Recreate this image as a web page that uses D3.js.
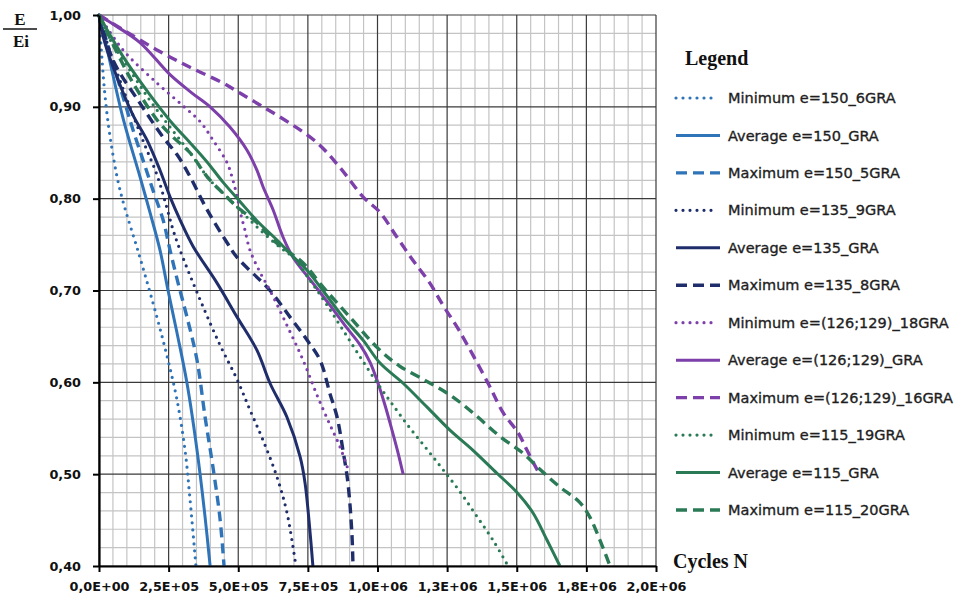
<!DOCTYPE html>
<html>
<head>
<meta charset="utf-8">
<script src="https://cdn.jsdelivr.net/npm/d3@7/dist/d3.min.js"></script>
<style>
  html, body { margin: 0; padding: 0; background: #fff; }
  svg { display: block; }
</style>
</head>
<body>
<svg id="chart" width="964" height="602"></svg>
<script>
// ---- Data: relative modulus E/Ei versus number of cycles N ----
const xTickValues = [0, 250000, 500000, 750000, 1000000, 1250000, 1500000, 1750000, 2000000];
const xTickLabels = ["0,0E+00", "2,5E+05", "5,0E+05", "7,5E+05", "1,0E+06", "1,3E+06", "1,5E+06", "1,8E+06", "2,0E+06"];
const yTickValues = [0.4, 0.5, 0.6, 0.7, 0.8, 0.9, 1.0];
const yTickLabels = ["0,40", "0,50", "0,60", "0,70", "0,80", "0,90", "1,00"];

const legendLabels = [
  "Minimum e=150_6GRA", "Average e=150_GRA", "Maximum e=150_5GRA",
  "Minimum e=135_9GRA", "Average e=135_GRA", "Maximum e=135_8GRA",
  "Minimum e=(126;129)_18GRA", "Average e=(126;129)_GRA", "Maximum e=(126;129)_16GRA",
  "Minimum e=115_19GRA", "Average e=115_GRA", "Maximum e=115_20GRA"
];

// [cycles N, E/Ei]
const min150 = [[0,1.00],[11000,0.951],[22000,0.911],[40000,0.867],[75000,0.810],[147000,0.736],[208000,0.671],[248000,0.624],[280000,0.581],[309000,0.526],[327000,0.472],[348000,0.400]];
const avg150 = [[0,1.00],[32000,0.959],[86000,0.888],[147000,0.824],[183000,0.785],[219000,0.744],[248000,0.700],[280000,0.654],[316000,0.599],[352000,0.526],[381000,0.453],[399000,0.400]];
const max150 = [[0,1.00],[47000,0.951],[100000,0.897],[122000,0.875],[158000,0.842],[194000,0.809],[230000,0.777],[255000,0.744],[284000,0.708],[316000,0.671],[352000,0.624],[381000,0.562],[409000,0.508],[434000,0.453],[449000,0.400]];

const min135 = [[0,1.00],[32000,0.967],[75000,0.929],[122000,0.891],[165000,0.858],[208000,0.826],[241000,0.793],[266000,0.766],[291000,0.744],[363000,0.690],[434000,0.641],[496000,0.603],[542000,0.570],[589000,0.537],[639000,0.497],[675000,0.458],[707000,0.400]];
const avg135 = [[0,1.00],[18000,0.973],[65000,0.932],[122000,0.891],[172000,0.864],[219000,0.831],[255000,0.802],[291000,0.777],[338000,0.748],[424000,0.708],[496000,0.671],[567000,0.635],[614000,0.599],[675000,0.562],[722000,0.519],[740000,0.490],[758000,0.436],[768000,0.400]];
const max135 = [[0,1.00],[50000,0.951],[147000,0.904],[230000,0.867],[280000,0.848],[327000,0.824],[388000,0.788],[460000,0.752],[496000,0.736],[614000,0.700],[686000,0.671],[747000,0.646],[794000,0.624],[829000,0.588],[855000,0.562],[876000,0.526],[894000,0.490],[908000,0.436],[912000,0.400]];

const min126 = [[0,1.00],[86000,0.962],[208000,0.926],[302000,0.901],[363000,0.884],[409000,0.864],[460000,0.839],[481000,0.820],[496000,0.802],[510000,0.782],[524000,0.766],[542000,0.744],[578000,0.720],[614000,0.700],[675000,0.662],[733000,0.624],[783000,0.586],[829000,0.554],[865000,0.530],[898000,0.502]];
const avg126 = [[0,1.00],[40000,0.992],[147000,0.970],[255000,0.935],[334000,0.915],[399000,0.900],[470000,0.878],[531000,0.853],[567000,0.831],[589000,0.813],[625000,0.788],[661000,0.758],[697000,0.736],[768000,0.708],[829000,0.684],[883000,0.662],[937000,0.641],[973000,0.622],[1002000,0.599],[1027000,0.575],[1052000,0.548],[1074000,0.523],[1092000,0.500]];
const max126 = [[0,1.00],[86000,0.984],[208000,0.962],[327000,0.943],[445000,0.926],[506000,0.915],[589000,0.900],[686000,0.882],[783000,0.861],[865000,0.834],[948000,0.802],[1009000,0.785],[1070000,0.758],[1127000,0.733],[1188000,0.708],[1235000,0.684],[1292000,0.657],[1397000,0.599],[1451000,0.567],[1505000,0.545],[1537000,0.526],[1573000,0.505],[1584000,0.500]];

const min115 = [[0,1.00],[40000,0.973],[111000,0.940],[183000,0.907],[255000,0.878],[327000,0.850],[399000,0.820],[470000,0.799],[531000,0.780],[589000,0.763],[650000,0.747],[697000,0.736],[758000,0.711],[819000,0.684],[876000,0.657],[937000,0.628],[1002000,0.598],[1056000,0.575],[1117000,0.550],[1178000,0.527],[1235000,0.505],[1296000,0.481],[1357000,0.454],[1415000,0.428],[1469000,0.400]];
const avg115 = [[0,1.00],[29000,0.984],[86000,0.955],[147000,0.928],[208000,0.903],[266000,0.881],[327000,0.861],[388000,0.840],[445000,0.818],[506000,0.797],[567000,0.776],[639000,0.755],[697000,0.737],[747000,0.722],[804000,0.700],[876000,0.671],[948000,0.646],[1009000,0.621],[1092000,0.599],[1178000,0.573],[1260000,0.548],[1343000,0.526],[1429000,0.501],[1501000,0.480],[1558000,0.458],[1609000,0.428],[1655000,0.400]];
const max115 = [[0,1.00],[65000,0.959],[122000,0.926],[208000,0.886],[266000,0.867],[327000,0.850],[388000,0.824],[445000,0.806],[496000,0.791],[567000,0.774],[625000,0.755],[686000,0.741],[733000,0.730],[804000,0.704],[901000,0.671],[1002000,0.637],[1078000,0.618],[1178000,0.601],[1271000,0.584],[1357000,0.563],[1440000,0.541],[1522000,0.523],[1584000,0.505],[1655000,0.486],[1727000,0.469],[1763000,0.453],[1799000,0.428],[1835000,0.400]];

const seriesValues = [min150, avg150, max150, min135, avg135, max135, min126, avg126, max126, min115, avg115, max115];
const seriesGroups = ["150", "150", "150", "135", "135", "135", "126", "126", "126", "115", "115", "115"];
const seriesKinds = ["min", "avg", "max", "min", "avg", "max", "min", "avg", "max", "min", "avg", "max"];

// ---- Styles ----
const groupColor = { "150": "#2f74b8", "135": "#1f2e6b", "126": "#7d3faa", "115": "#2a7a56" };
const kindStyle = {
  min: { dash: "0,7", cap: "round", width: 3.2 },
  avg: { dash: null, cap: "butt", width: 3 },
  max: { dash: "10,6", cap: "butt", width: 3.4 }
};

const svg = d3.select("#chart");
const plot = { left: 99, right: 656, top: 15, bottom: 566 };

const x = d3.scaleLinear().domain([0, 2000000]).range([plot.left, plot.right]);
const y = d3.scaleLinear().domain([0.4, 1.0]).range([plot.bottom, plot.top]);

// Grid: minor lines every 50 000 cycles / 0.02, major lines at the ticks
const grid = svg.append("g");
const minorX = d3.range(0, 2000001, 50000).filter(v => v % 250000 !== 0);
const minorY = d3.range(0, 31).map(i => 0.4 + i * 0.02).filter((v, i) => i % 5 !== 0);

grid.selectAll("line.minx").data(minorX).join("line")
  .attr("x1", d => x(d)).attr("x2", d => x(d))
  .attr("y1", plot.top).attr("y2", plot.bottom)
  .attr("stroke", "#c4c4c4").attr("stroke-width", 1.2);
grid.selectAll("line.miny").data(minorY).join("line")
  .attr("x1", plot.left).attr("x2", plot.right)
  .attr("y1", d => y(d)).attr("y2", d => y(d))
  .attr("stroke", "#c4c4c4").attr("stroke-width", 1.2);
grid.selectAll("line.majx").data(xTickValues).join("line")
  .attr("x1", d => x(d)).attr("x2", d => x(d))
  .attr("y1", plot.top).attr("y2", plot.bottom)
  .attr("stroke", "#3a3a3a").attr("stroke-width", 1.2);
grid.selectAll("line.majy").data(yTickValues).join("line")
  .attr("x1", plot.left).attr("x2", plot.right)
  .attr("y1", d => y(d)).attr("y2", d => y(d))
  .attr("stroke", "#3a3a3a").attr("stroke-width", 1.2);

// Curves
const line = d3.line()
  .x(d => x(d[0]))
  .y(d => y(d[1]))
  .curve(d3.curveCatmullRom.alpha(0.5));

const curves = svg.append("g").attr("fill", "none");
seriesValues.forEach((vals, i) => {
  const st = kindStyle[seriesKinds[i]];
  curves.append("path")
    .datum(vals)
    .attr("d", line)
    .attr("stroke", groupColor[seriesGroups[i]])
    .attr("stroke-width", st.width)
    .attr("stroke-linecap", st.cap)
    .attr("stroke-linejoin", "round")
    .attr("stroke-dasharray", st.dash);
});

// Axes
const tickFont = "'DejaVu Sans', Verdana, sans-serif";
const yAxis = svg.append("g")
  .attr("transform", `translate(${plot.left},0)`)
  .call(d3.axisLeft(y).tickValues(yTickValues)
    .tickFormat((d, i) => yTickLabels[i]).tickSize(6).tickSizeOuter(0).tickPadding(12));
const xAxis = svg.append("g")
  .attr("transform", `translate(0,${plot.bottom})`)
  .call(d3.axisBottom(x).tickValues(xTickValues)
    .tickFormat((d, i) => xTickLabels[i]).tickSize(6).tickSizeOuter(0).tickPadding(10));

[yAxis, xAxis].forEach(ax => {
  ax.select(".domain").attr("stroke", "#000").attr("stroke-width", 2.2);
  ax.selectAll(".tick line").attr("stroke", "#000").attr("stroke-width", 2);
  ax.selectAll(".tick text")
    .attr("fill", "#111")
    .style("font-family", tickFont)
    .style("font-weight", "bold")
    .style("font-size", "12.8px");
});

// Axis titles
const serif = "'Liberation Serif', 'DejaVu Serif', serif";
svg.append("text").attr("x", 20).attr("y", 25).attr("text-anchor", "middle")
  .style("font-family", serif).style("font-weight", "bold").style("font-size", "17px")
  .attr("fill", "#111").text("E");
svg.append("line").attr("x1", 3).attr("x2", 37).attr("y1", 29).attr("y2", 29)
  .attr("stroke", "#111").attr("stroke-width", 1.5);
svg.append("text").attr("x", 21).attr("y", 47).attr("text-anchor", "middle")
  .style("font-family", serif).style("font-weight", "bold").style("font-size", "17px")
  .attr("fill", "#111").text("Ei");
svg.append("text").attr("x", 673).attr("y", 568)
  .style("font-family", serif).style("font-weight", "bold").style("font-size", "20px")
  .attr("fill", "#111").text("Cycles N");

// Legend
const legend = svg.append("g");
legend.append("text").attr("x", 685).attr("y", 65)
  .style("font-family", serif).style("font-weight", "bold").style("font-size", "20px")
  .attr("fill", "#111").text("Legend");

legendLabels.forEach((label, i) => {
  const ly = 98 + i * 37.45;
  const st = kindStyle[seriesKinds[i]];
  legend.append("line")
    .attr("x1", 676).attr("x2", seriesKinds[i] === "min" ? 713 : 720)
    .attr("y1", ly).attr("y2", ly)
    .attr("stroke", groupColor[seriesGroups[i]])
    .attr("stroke-width", st.width)
    .attr("stroke-linecap", st.cap)
    .attr("stroke-dasharray", seriesKinds[i] === "max" ? "11,6" : st.dash);
  legend.append("text")
    .attr("x", 728).attr("y", ly).attr("dy", "0.35em")
    .style("font-family", tickFont).style("font-size", "14.5px")
    .attr("fill", "#1e1e1e").attr("stroke", "#1e1e1e").attr("stroke-width", 0.35)
    .text(label);
});
</script>
</body>
</html>
